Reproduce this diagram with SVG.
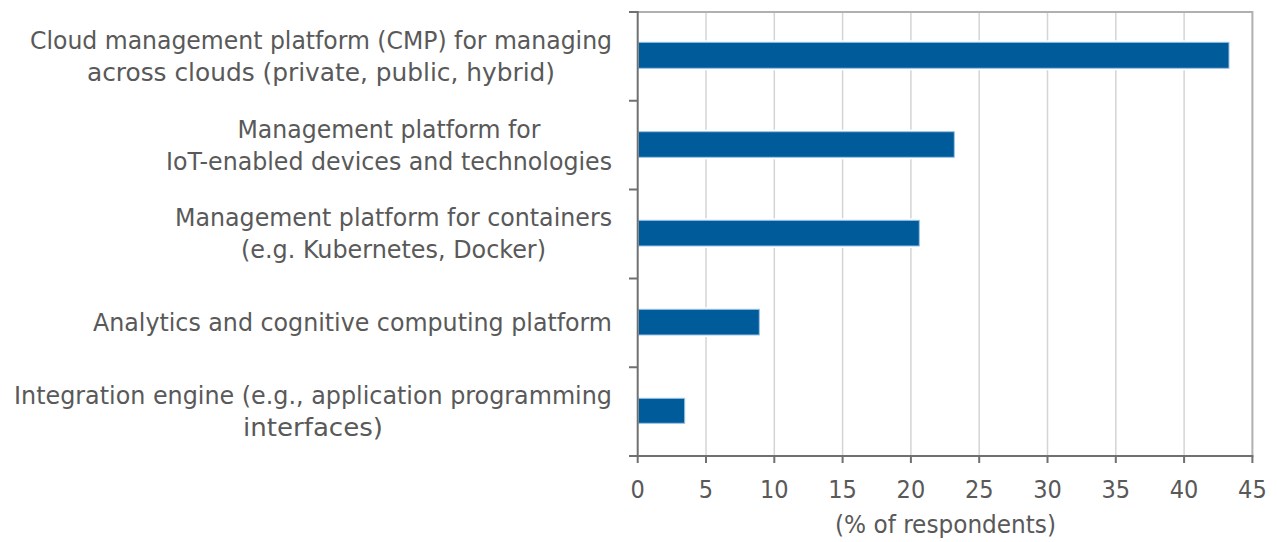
<svg xmlns="http://www.w3.org/2000/svg" width="1277" height="542" viewBox="0 0 1277 542">
  <style>
    .lbl { font-family: "DejaVu Sans Condensed", "DejaVu Sans", sans-serif; font-stretch: condensed; font-size: 25px; fill: #595959; }
    .tick { font-family: "DejaVu Sans Condensed", "DejaVu Sans", sans-serif; font-stretch: condensed; font-size: 25px; fill: #595959; text-anchor: middle; }
    .grid { stroke: #d4d4d4; stroke-width: 1.5; }
    .frame { stroke: #b0b0b0; stroke-width: 2; fill: none; }
    .axis { stroke: #707070; stroke-width: 2; fill: none; }
    .halo { fill: #ffffff; }
    .bar { fill: #005b9a; stroke: #9cc3e5; stroke-width: 1; }
  </style>

  <rect width="1277" height="542" fill="#ffffff"/>

  <!-- vertical gridlines every 5 % -->
  <g id="grid">
    <line class="grid" x1="706" y1="12" x2="706" y2="456"/>
    <line class="grid" x1="774.3" y1="12" x2="774.3" y2="456"/>
    <line class="grid" x1="842.6" y1="12" x2="842.6" y2="456"/>
    <line class="grid" x1="910.9" y1="12" x2="910.9" y2="456"/>
    <line class="grid" x1="979.2" y1="12" x2="979.2" y2="456"/>
    <line class="grid" x1="1047.5" y1="12" x2="1047.5" y2="456"/>
    <line class="grid" x1="1115.8" y1="12" x2="1115.8" y2="456"/>
    <line class="grid" x1="1184.1" y1="12" x2="1184.1" y2="456"/>
  </g>

  <!-- plot area top and right edges -->
  <path class="frame" d="M637.7 12 H1252.4 V456"/>

  <!-- bars (white halo interrupts the gridlines) -->
  <g id="bars">
    <g id="bar-cmp">
      <rect class="halo" x="638.5" y="40.3" width="592.5" height="30"/>
      <rect class="bar" x="638.5" y="42.3" width="590.5" height="26"/>
    </g>
    <g id="bar-iot">
      <rect class="halo" x="638.5" y="129.7" width="317.8" height="29.6"/>
      <rect class="bar" x="638.5" y="131.7" width="315.8" height="25.6"/>
    </g>
    <g id="bar-containers">
      <rect class="halo" x="638.5" y="218.3" width="282.8" height="29.7"/>
      <rect class="bar" x="638.5" y="220.3" width="280.8" height="25.7"/>
    </g>
    <g id="bar-analytics">
      <rect class="halo" x="638.5" y="307.3" width="122.8" height="29.7"/>
      <rect class="bar" x="638.5" y="309.3" width="120.8" height="25.7"/>
    </g>
    <g id="bar-integration">
      <rect class="halo" x="638.5" y="396.3" width="48.2" height="29"/>
      <rect class="bar" x="638.5" y="398.3" width="46.2" height="25"/>
    </g>
  </g>

  <!-- axes with tick marks -->
  <g id="axes">
    <line class="axis" x1="637.7" y1="11" x2="637.7" y2="457"/>
    <line class="axis" x1="629" y1="456" x2="1253.4" y2="456"/>
    <path class="axis" d="M629 12 H637.7 M629 100.8 H637.7 M629 189.6 H637.7 M629 278.4 H637.7 M629 367.2 H637.7"/>
    <path class="axis" d="M637.7 456 V463 M706 456 V463 M774.3 456 V463 M842.6 456 V463 M910.9 456 V463 M979.2 456 V463 M1047.5 456 V463 M1115.8 456 V463 M1184.1 456 V463 M1252.4 456 V463"/>
  </g>

  <!-- category labels -->
  <g id="label-cmp" class="lbl" text-anchor="middle">
    <text x="321" y="49" textLength="582" lengthAdjust="spacingAndGlyphs">Cloud management platform (CMP) for managing</text>
    <text x="321" y="81" textLength="468" lengthAdjust="spacingAndGlyphs">across clouds (private, public, hybrid)</text>
  </g>
  <g id="label-iot" class="lbl" text-anchor="middle">
    <text x="389" y="138" textLength="303" lengthAdjust="spacingAndGlyphs">Management platform for</text>
    <text x="389" y="169.5" textLength="446" lengthAdjust="spacingAndGlyphs">IoT-enabled devices and technologies</text>
  </g>
  <g id="label-containers" class="lbl" text-anchor="middle">
    <text x="393.5" y="226" textLength="437" lengthAdjust="spacingAndGlyphs">Management platform for containers</text>
    <text x="393.5" y="257.5" textLength="305" lengthAdjust="spacingAndGlyphs">(e.g. Kubernetes, Docker)</text>
  </g>
  <g id="label-analytics" class="lbl" text-anchor="middle">
    <text x="352.5" y="331" textLength="519" lengthAdjust="spacingAndGlyphs">Analytics and cognitive computing platform</text>
  </g>
  <g id="label-integration" class="lbl" text-anchor="middle">
    <text x="313" y="404" textLength="598" lengthAdjust="spacingAndGlyphs">Integration engine (e.g., application programming</text>
    <text x="313" y="435.5" textLength="140" lengthAdjust="spacingAndGlyphs">interfaces)</text>
  </g>

  <!-- value axis labels -->
  <g id="value-axis-labels">
    <text class="tick" x="637.7" y="498">0</text>
    <text class="tick" x="706" y="498">5</text>
    <text class="tick" x="774.3" y="498">10</text>
    <text class="tick" x="842.6" y="498">15</text>
    <text class="tick" x="910.9" y="498">20</text>
    <text class="tick" x="979.2" y="498">25</text>
    <text class="tick" x="1047.5" y="498">30</text>
    <text class="tick" x="1115.8" y="498">35</text>
    <text class="tick" x="1184.1" y="498">40</text>
    <text class="tick" x="1252.4" y="498">45</text>
    <text class="tick" x="945.5" y="533" textLength="221" lengthAdjust="spacingAndGlyphs">(% of respondents)</text>
  </g>
</svg>
